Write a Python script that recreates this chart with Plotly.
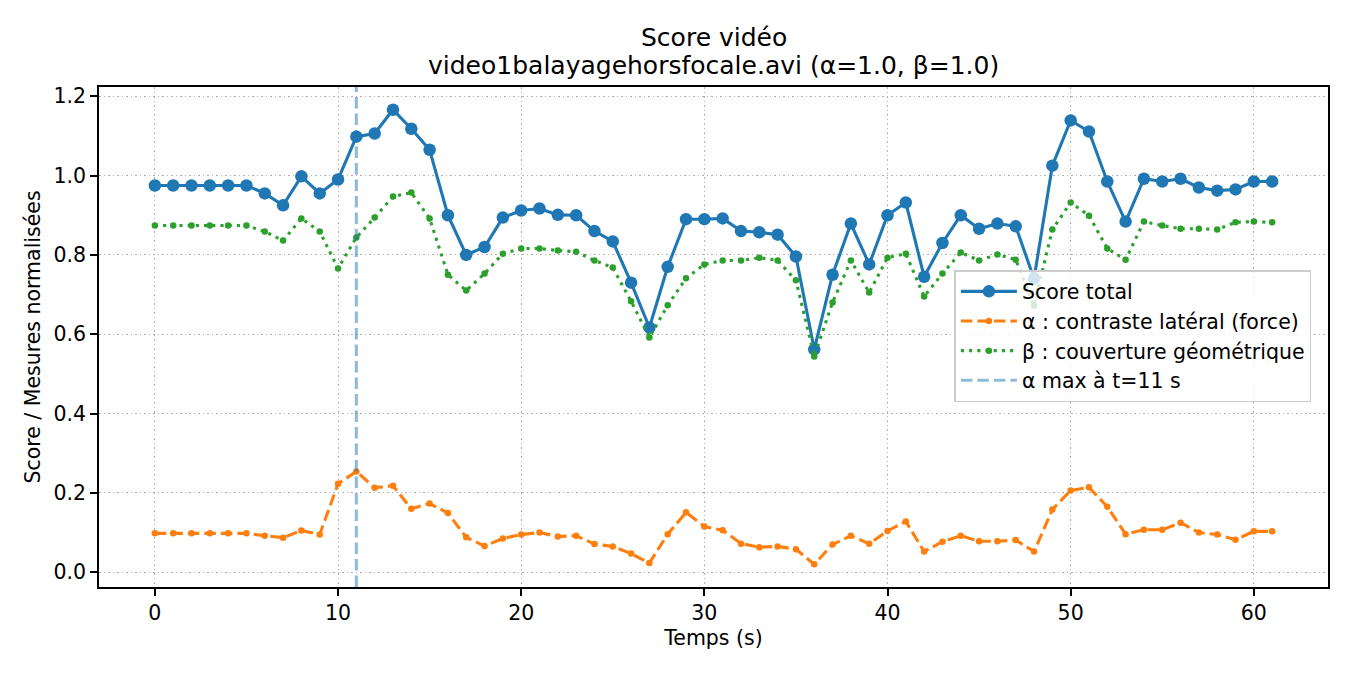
import numpy as np
import plotly.graph_objects as go

# ---- data ----
temps = list(range(62))

score_total = [0.975, 0.975, 0.975, 0.975, 0.975, 0.975, 0.955, 0.925, 0.998, 0.955,
               0.990, 1.098, 1.106, 1.166, 1.118, 1.065, 0.900, 0.800, 0.820, 0.894,
               0.912, 0.917, 0.901, 0.900, 0.860, 0.834, 0.730, 0.617, 0.770, 0.890,
               0.890, 0.892, 0.860, 0.857, 0.851, 0.796, 0.562, 0.750, 0.879, 0.776,
               0.900, 0.932, 0.745, 0.830, 0.900, 0.866, 0.879, 0.872, 0.740, 1.025,
               1.139, 1.111, 0.985, 0.884, 0.992, 0.985, 0.992, 0.970, 0.962, 0.965,
               0.985, 0.985]

alpha_contraste = [0.098, 0.098, 0.098, 0.098, 0.098, 0.098, 0.092, 0.087, 0.105, 0.095,
                   0.223, 0.254, 0.213, 0.218, 0.160, 0.173, 0.149, 0.088, 0.066, 0.085,
                   0.095, 0.100, 0.090, 0.092, 0.071, 0.065, 0.047, 0.023, 0.096, 0.151,
                   0.115, 0.106, 0.072, 0.063, 0.065, 0.058, 0.020, 0.070, 0.092, 0.072,
                   0.104, 0.128, 0.052, 0.077, 0.092, 0.078, 0.078, 0.081, 0.052, 0.158,
                   0.206, 0.214, 0.165, 0.096, 0.107, 0.107, 0.125, 0.100, 0.095, 0.082,
                   0.103, 0.103]

beta_couverture = [0.874, 0.874, 0.874, 0.874, 0.874, 0.874, 0.859, 0.836, 0.892, 0.859,
                   0.766, 0.844, 0.894, 0.947, 0.957, 0.892, 0.750, 0.710, 0.753, 0.803,
                   0.816, 0.816, 0.811, 0.808, 0.786, 0.768, 0.683, 0.592, 0.673, 0.741,
                   0.776, 0.786, 0.786, 0.793, 0.786, 0.736, 0.544, 0.680, 0.786, 0.705,
                   0.793, 0.803, 0.695, 0.753, 0.806, 0.786, 0.801, 0.788, 0.672, 0.864,
                   0.932, 0.899, 0.816, 0.788, 0.884, 0.874, 0.866, 0.866, 0.864, 0.882,
                   0.884, 0.882]

x_ticks = [0, 10, 20, 30, 40, 50, 60]
y_ticks = [0.0, 0.2, 0.4, 0.6, 0.8, 1.0, 1.2]

title_line1 = "Score vidéo"
title_line2 = "video1balayagehorsfocale.avi (α=1.0, β=1.0)"

# ---- styling ----
BLUE = "#1f77b4"
ORANGE = "#ff7f0e"
GREEN = "#2ca02c"
FONT = "DejaVu Sans"
FS = 20.5

t_max = temps[int(np.argmax(alpha_contraste))]

# matplotlib-like 5% margins
def padded(lo, hi, frac=0.05):
    d = hi - lo
    return [lo - frac * d, hi + frac * d]

all_y = score_total + alpha_contraste + beta_couverture
x_range = padded(min(temps), max(temps))
y_range = padded(min(all_y), max(all_y))

fig = go.Figure()

fig.add_trace(go.Scatter(
    x=temps, y=score_total, mode="lines+markers", name="Score total",
    line=dict(color=BLUE, width=3.1),
    marker=dict(color=BLUE, size=12.5),
))
fig.add_trace(go.Scatter(
    x=temps, y=alpha_contraste, mode="lines+markers",
    name="α : contraste latéral (force)",
    line=dict(color=ORANGE, width=3.1, dash="11.5px,5px"),
    marker=dict(color=ORANGE, size=6.5),
))
fig.add_trace(go.Scatter(
    x=temps, y=beta_couverture, mode="lines+markers",
    name="β : couverture géométrique",
    line=dict(color=GREEN, width=3.1, dash="3.1px,5.1px"),
    marker=dict(color=GREEN, size=6.5),
))

fig.add_shape(
    type="line", xref="x", yref="paper", x0=t_max, x1=t_max, y0=0, y1=1,
    line=dict(color="rgba(31,119,180,0.5)", width=3.1, dash="11.5px,5px"),
    layer="above", showlegend=True, name=f"α max à t={t_max} s",
)

axis_common = dict(
    showline=True, linecolor="#000000", linewidth=1.67, mirror=True,
    ticks="outside", ticklen=7, tickwidth=1.67, tickcolor="#000000",
    showgrid=True, gridcolor="#b0b0b0", gridwidth=1.4, griddash="1.7px,2.8px",
    zeroline=False,
    tickfont=dict(family=FONT, size=FS, color="#000000"),
)

fig.update_xaxes(
    range=x_range, tickvals=x_ticks, ticktext=[str(v) for v in x_ticks],
    title=dict(text="Temps (s)", font=dict(family=FONT, size=FS, color="#000000"), standoff=6),
    **axis_common,
)
fig.update_yaxes(
    range=y_range, tickvals=y_ticks, ticktext=[f"{v:.1f}" for v in y_ticks],
    title=dict(text="Score / Mesures normalisées", font=dict(family=FONT, size=FS, color="#000000"), standoff=7),
    **axis_common,
)

fig.add_annotation(text=title_line1, xref="paper", yref="paper", x=0.5, y=1.098,
                   xanchor="center", yanchor="middle", showarrow=False,
                   font=dict(family=FONT, size=25, color="#000000"))
fig.add_annotation(text=title_line2, xref="paper", yref="paper", x=0.5, y=1.042,
                   xanchor="center", yanchor="middle", showarrow=False,
                   font=dict(family=FONT, size=25, color="#000000"))

# the page body adds an 8px offset, so the figure is 8px smaller and margins are adjusted
fig.update_layout(
    width=1342, height=667,
    margin=dict(l=91, r=22, t=79, b=88, autoexpand=False),
    paper_bgcolor="white", plot_bgcolor="white",
    font=dict(family=FONT, size=FS, color="#000000"),
    showlegend=True,
    legend=dict(
        x=0.696, y=0.634, xanchor="left", yanchor="top",
        bgcolor="rgba(255,255,255,0.8)", bordercolor="#cccccc", borderwidth=1.5,
        font=dict(family=FONT, size=FS, color="#000000"),
        tracegroupgap=0, itemwidth=56,
    ),
)

fig.write_html("out.html")
